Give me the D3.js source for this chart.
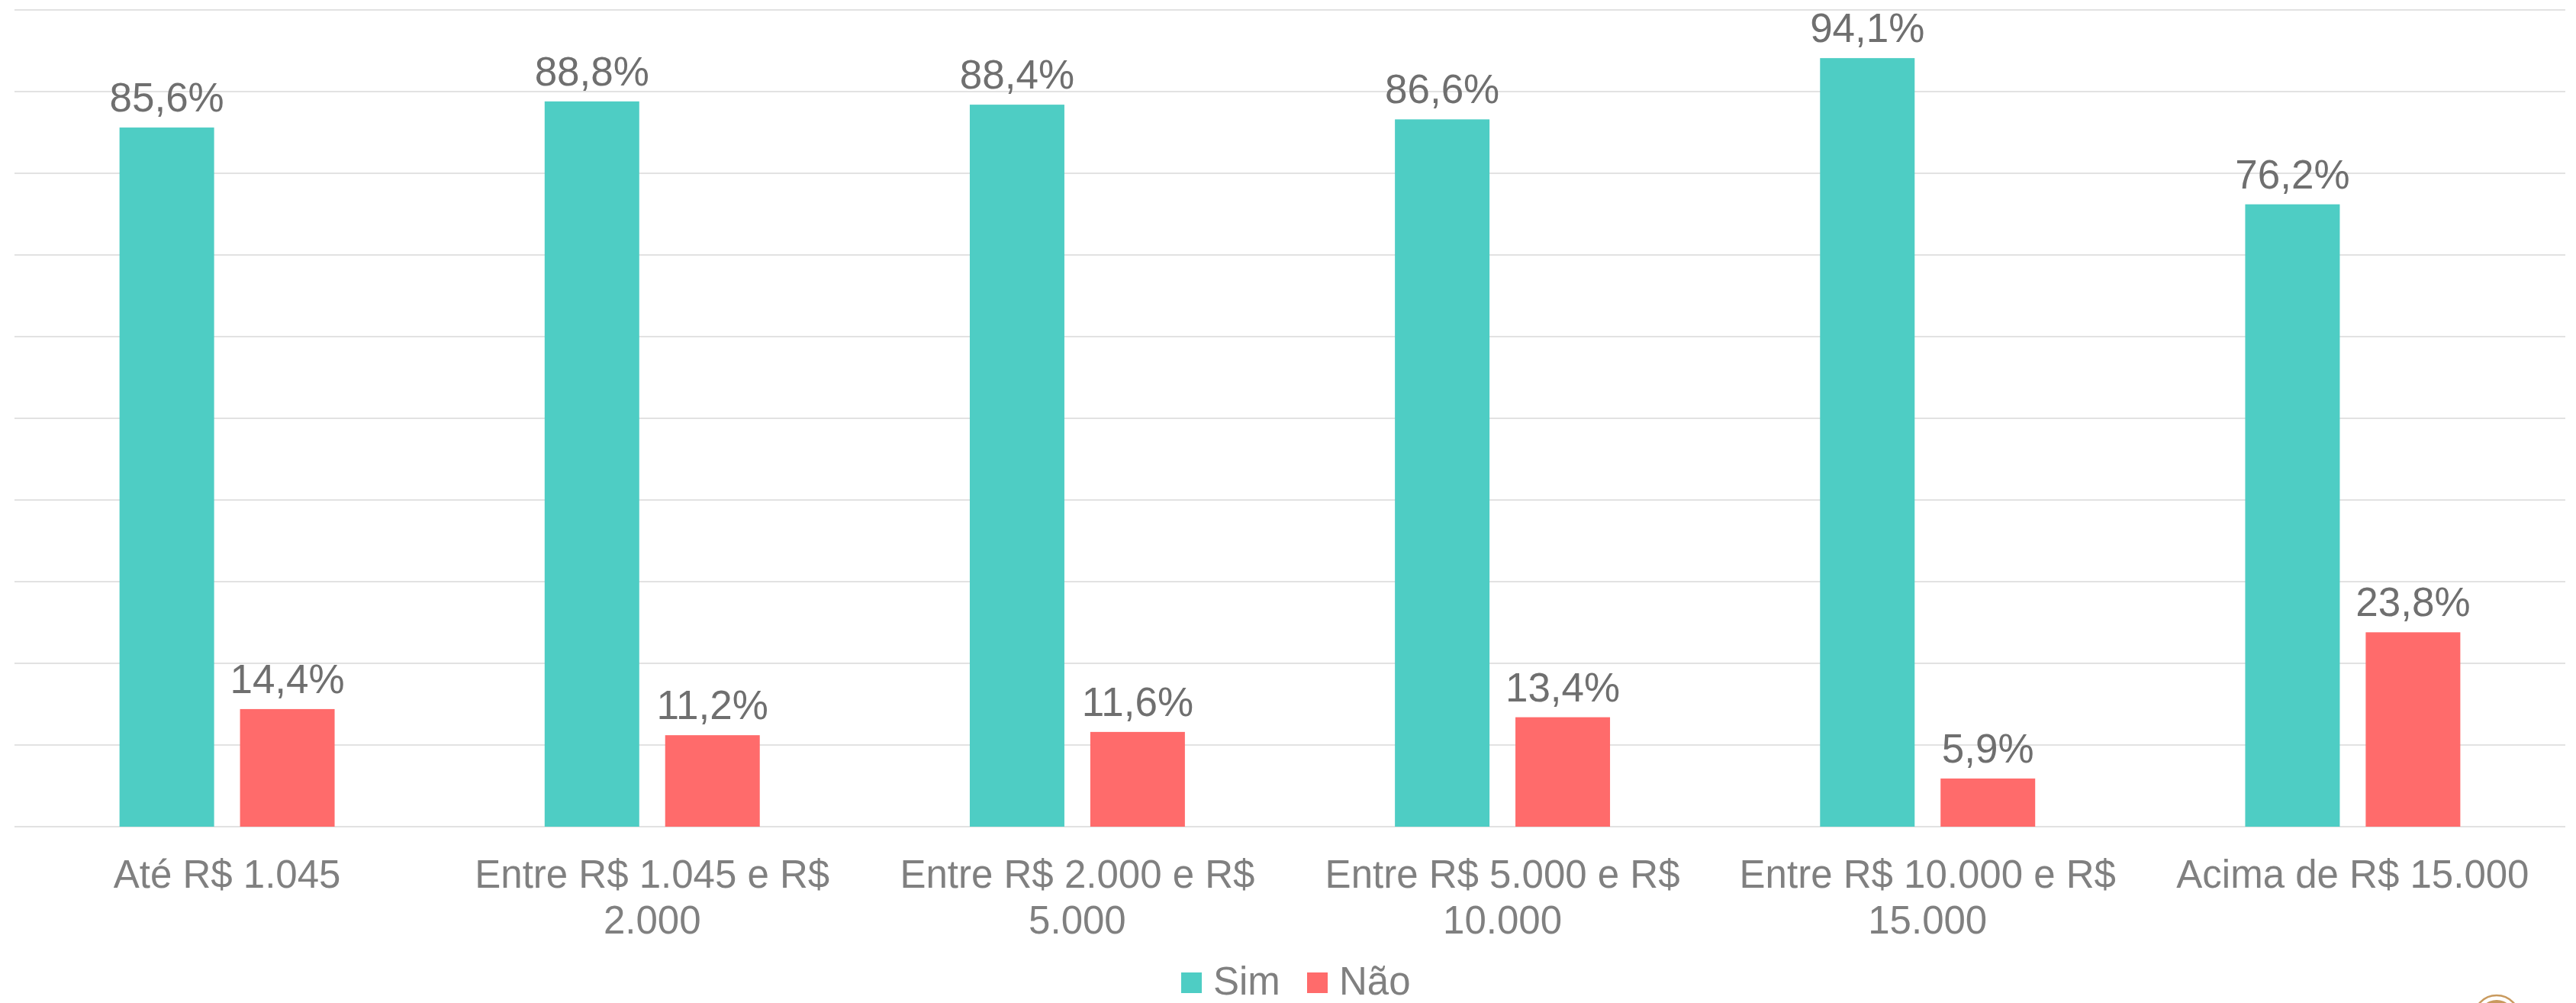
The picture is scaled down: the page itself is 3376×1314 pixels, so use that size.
<!DOCTYPE html>
<meta charset="utf-8">
<script src="https://cdn.jsdelivr.net/npm/d3@7"></script>
<style>
  body { margin: 0; background: #fff; }
  text { font-family: "Liberation Sans", Arial, sans-serif; }
</style>
<div id="my_dataviz"></div>
<script>

// categories (each entry is the label split into its lines)
var categories = [
  ["Até R$ 1.045"],
  ["Entre R$ 1.045 e R$", "2.000"],
  ["Entre R$ 2.000 e R$", "5.000"],
  ["Entre R$ 5.000 e R$", "10.000"],
  ["Entre R$ 10.000 e R$", "15.000"],
  ["Acima de R$ 15.000"]
]
var seriesNames = ["Sim", "Não"]
var simValues = [85.6, 88.8, 88.4, 86.6, 94.1, 76.2]
var naoValues = [14.4, 11.2, 11.6, 13.4, 5.9, 23.8]
var gridTicks = [0, 10, 20, 30, 40, 50, 60, 70, 80, 90, 100]
var colors = ["#4ECDC4", "#FF6B6B"]

var width = 3376, height = 1314

var svg = d3.select("#my_dataviz")
  .append("svg")
    .attr("width", width)
    .attr("height", height)

// scales
var keys = categories.map(function(d, i){ return "c" + i })
var x0 = d3.scaleBand()
  .domain(keys)
  .range([19, 3362])
  .paddingInner(0.494)
  .paddingOuter(0.247)
var x1 = d3.scaleBand()
  .domain(seriesNames)
  .range([0, x0.bandwidth()])
  .paddingInner(0.215)
var y = d3.scaleLinear()
  .domain([0, 100])
  .range([1083, 13])
var color = d3.scaleOrdinal().domain(seriesNames).range(colors)

// gridlines
svg.append("g")
  .selectAll("line")
  .data(gridTicks)
  .enter()
  .append("line")
    .attr("x1", 19)
    .attr("x2", 3362)
    .attr("y1", function(d){ return y(d) })
    .attr("y2", function(d){ return y(d) })
    .attr("stroke", "#e2e2e2")
    .attr("stroke-width", 2)

// flat data for bars
var data = []
keys.forEach(function(k, i) {
  data.push({key: k, series: "Sim", value: simValues[i]})
  data.push({key: k, series: "Não", value: naoValues[i]})
})

svg.append("g")
  .selectAll("rect")
  .data(data)
  .enter()
  .append("rect")
    .attr("x", function(d){ return x0(d.key) + x1(d.series) })
    .attr("y", function(d){ return y(d.value) })
    .attr("width", x1.bandwidth())
    .attr("height", function(d){ return y(0) - y(d.value) })
    .attr("fill", function(d){ return color(d.series) })

// value labels
svg.append("g")
  .selectAll("text")
  .data(data)
  .enter()
  .append("text")
    .attr("x", function(d){ return x0(d.key) + x1(d.series) + x1.bandwidth() / 2 })
    .attr("y", function(d){ return y(d.value) - 21 })
    .attr("text-anchor", "middle")
    .attr("font-size", 53)
    .attr("fill", "#6f6f6f")
    .text(function(d){ return d.value.toFixed(1).replace(".", ",") + "%" })

// category labels
var cat = svg.append("g")
  .selectAll("text")
  .data(categories)
  .enter()
  .append("text")
    .attr("text-anchor", "middle")
    .attr("font-size", 51)
    .attr("fill", "#808080")
    .attr("transform", function(d, i){ return "translate(" + (x0(keys[i]) + x0.bandwidth() / 2) + ",1163)" })
cat.selectAll("tspan")
  .data(function(d){ return d })
  .enter()
  .append("tspan")
    .attr("x", 0)
    .attr("y", function(d, i){ return i * 60 })
    .text(function(d){ return d })

// legend
var legendX = [1548, 1713]
var legend = svg.append("g")
  .selectAll("g")
  .data(seriesNames)
  .enter()
  .append("g")
    .attr("transform", function(d, i){ return "translate(" + legendX[i] + ",1274)" })
legend.append("rect")
  .attr("width", 27)
  .attr("height", 27)
  .attr("fill", function(d){ return color(d) })
legend.append("text")
  .attr("x", 42)
  .attr("y", 29)
  .attr("font-size", 51)
  .attr("fill", "#808080")
  .text(function(d){ return d })

// small logo peeking in at the bottom right corner
var logo = svg.append("g").attr("transform", "translate(3272,1334)")
logo.append("circle")
  .attr("r", 30)
  .attr("fill", "none")
  .attr("stroke", "#c99a5e")
  .attr("stroke-width", 2.5)
logo.append("circle")
  .attr("r", 24)
  .attr("fill", "#c99a5e")

</script>
